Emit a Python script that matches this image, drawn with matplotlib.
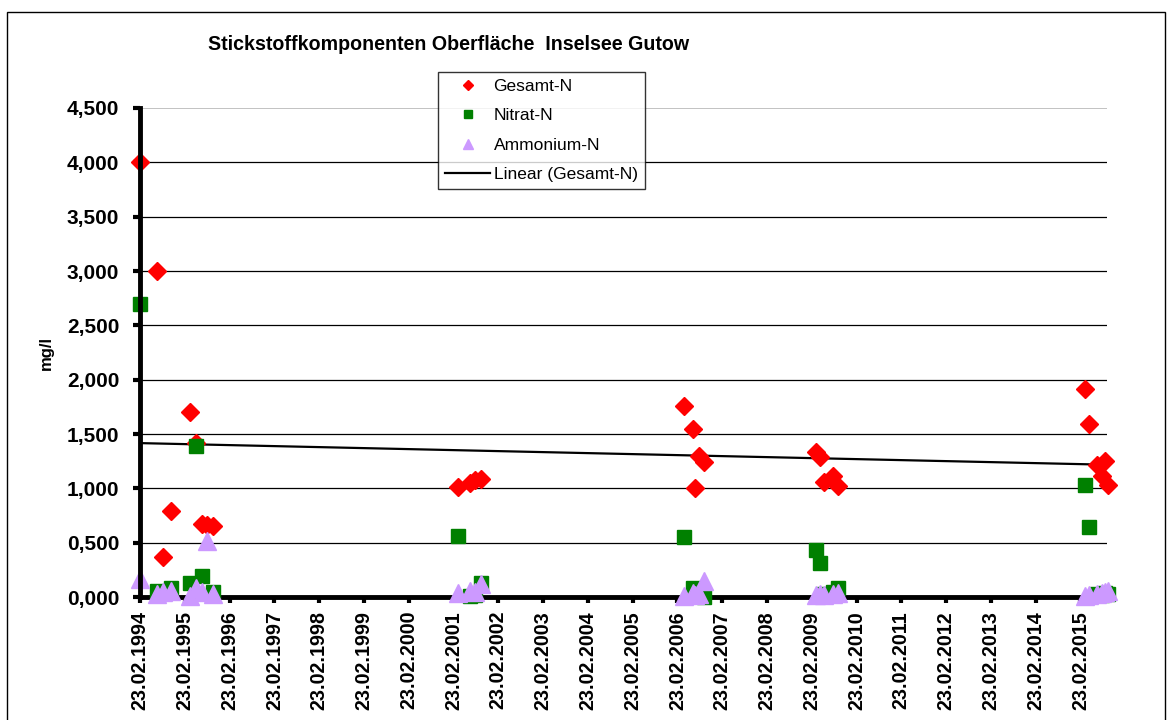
import matplotlib.pyplot as plt
import matplotlib.dates as mdates
from matplotlib.lines import Line2D
from matplotlib.patches import Rectangle
import numpy as np
import pandas as pd

plt.rcParams['font.family'] = ['Liberation Sans', 'DejaVu Sans']

# sampling dates
dates = [
    "1994-02-23", "1994-07-08", "1994-08-28", "1994-11-03",
    "1995-04-08", "1995-05-26", "1995-07-16", "1995-08-25", "1995-10-12",
    "2001-03-28", "2001-07-09", "2001-08-18", "2001-10-01",
    "2006-04-20", "2006-06-30", "2006-07-18", "2006-08-22", "2006-10-01",
    "2009-04-01", "2009-05-04", "2009-06-06", "2009-08-11", "2009-09-27",
    "2015-03-29", "2015-05-05", "2015-07-12", "2015-08-18", "2015-09-09", "2015-10-09",
]
gesamt_n = [
    4.00, 3.00, 0.37, 0.79,
    1.705, 1.42, 0.67, 0.66, 0.65,
    1.015, 1.05, 1.075, 1.09,
    1.76, 1.55, 1.00, 1.30, 1.24,
    1.33, 1.29, 1.06, 1.11, 1.02,
    1.915, 1.59, 1.215, 1.11, 1.25, 1.03,
]
nitrat_n = [
    2.70, 0.06, np.nan, 0.08,
    0.13, 1.39, 0.19, np.nan, 0.05,
    0.56, 0.01, 0.02, 0.13,
    0.555, 0.08, 0.03, 0.02, 0.00,
    0.43, 0.31, 0.03, 0.05, 0.08,
    1.03, 0.64, 0.03, 0.02, 0.04, 0.03,
]
ammonium_n = [
    0.17, 0.03, 0.05, 0.06,
    0.01, 0.08, 0.05, 0.52, 0.03,
    0.04, 0.06, 0.05, 0.12,
    0.01, 0.04, 0.02, 0.03, 0.15,
    0.02, 0.03, 0.02, 0.03, 0.04,
    0.01, 0.02, 0.03, 0.04, 0.05, 0.06,
]

title = "Stickstoffkomponenten Oberfläche  Inselsee Gutow"
years = list(range(1994, 2016))
x_start = "1994-02-23"
x_end = "2015-09-28"

df = pd.DataFrame({"Datum": pd.to_datetime(dates),
                   "Gesamt-N": gesamt_n,
                   "Nitrat-N": nitrat_n,
                   "Ammonium-N": ammonium_n})

fig = plt.figure(figsize=(11.68, 7.2), dpi=100)
ax = fig.add_axes([0.1199, 0.1708, 0.8279, 0.6792])

# outer frame
fig.patches.append(Rectangle((7 / 1168, -0.1), 1158 / 1168, 1.1 - 12 / 720,
                             transform=fig.transFigure, fill=False,
                             edgecolor="black", linewidth=1.0))

# gridlines
for v in np.arange(0.5, 4.01, 0.5):
    ax.axhline(v, color="black", linewidth=0.9, zorder=1)
ax.axhline(4.5, color="#b8b8b8", linewidth=1.2, zorder=1)

# trend line for Gesamt-N
xnum = mdates.date2num(df["Datum"])
k, d = np.polyfit(xnum, df["Gesamt-N"], 1)
xl = mdates.date2num(pd.to_datetime([x_start, x_end]))
ax.plot(xl, k * xl + d, color="black", linewidth=1.6, zorder=3)

ax.plot(df["Datum"], df["Gesamt-N"], linestyle="none", marker="D", ms=9,
        color="#ff0000", clip_on=False, zorder=4)
ax.plot(df["Datum"], df["Nitrat-N"], linestyle="none", marker="s", ms=10,
        color="#008000", clip_on=False, zorder=5)
ax.plot(df["Datum"], df["Ammonium-N"], linestyle="none", marker="^", ms=13,
        color="#cc99ff", clip_on=False, zorder=6)

ax.set_xlim(pd.Timestamp(x_start), pd.Timestamp(x_end))
ax.set_ylim(0, 4.5)

ax.set_yticks(np.arange(0, 4.51, 0.5))
ax.set_yticklabels([f"{v:.3f}".replace(".", ",") for v in np.arange(0, 4.51, 0.5)],
                   fontsize=15, fontweight="bold")
ticks = pd.to_datetime([f"{y}-02-23" for y in years])
ax.set_xticks(ticks)
ax.set_xticklabels([f"23.02.{y}" for y in years], rotation=90,
                   fontsize=14.2, fontweight="bold")
ax.tick_params(axis="y", direction="out", length=5, width=3, pad=10)
ax.tick_params(axis="x", direction="out", length=4, width=3, pad=6)

for s in ["top", "right"]:
    ax.spines[s].set_visible(False)
ax.spines["left"].set_linewidth(3.5)
ax.spines["bottom"].set_linewidth(3.5)
ax.spines["left"].set_zorder(7)

ax.set_ylabel("mg/l", fontsize=12, fontweight="bold", labelpad=9)

fig.text(208 / 1168, 1 - 45 / 720, title, fontsize=14.15, fontweight="bold",
         ha="left", va="center")

handles = [
    Line2D([], [], linestyle="none", marker="D", ms=5, color="#ff0000"),
    Line2D([], [], linestyle="none", marker="s", ms=6, color="#008000"),
    Line2D([], [], linestyle="none", marker="^", ms=7, color="#cc99ff"),
    Line2D([], [], color="black", linewidth=1.6),
]
labels = ["Gesamt-N", "Nitrat-N", "Ammonium-N", "Linear (Gesamt-N)"]
leg = fig.legend(handles, labels, loc="upper left", bbox_to_anchor=(0.375, 0.9),
                 fontsize=12.5, frameon=True, fancybox=False, edgecolor="black",
                 handlelength=2.6, labelspacing=0.82, borderpad=0.4,
                 handletextpad=0.2, borderaxespad=0)
leg.get_frame().set_linewidth(1.0)

fig.savefig("out.png", dpi=100)
